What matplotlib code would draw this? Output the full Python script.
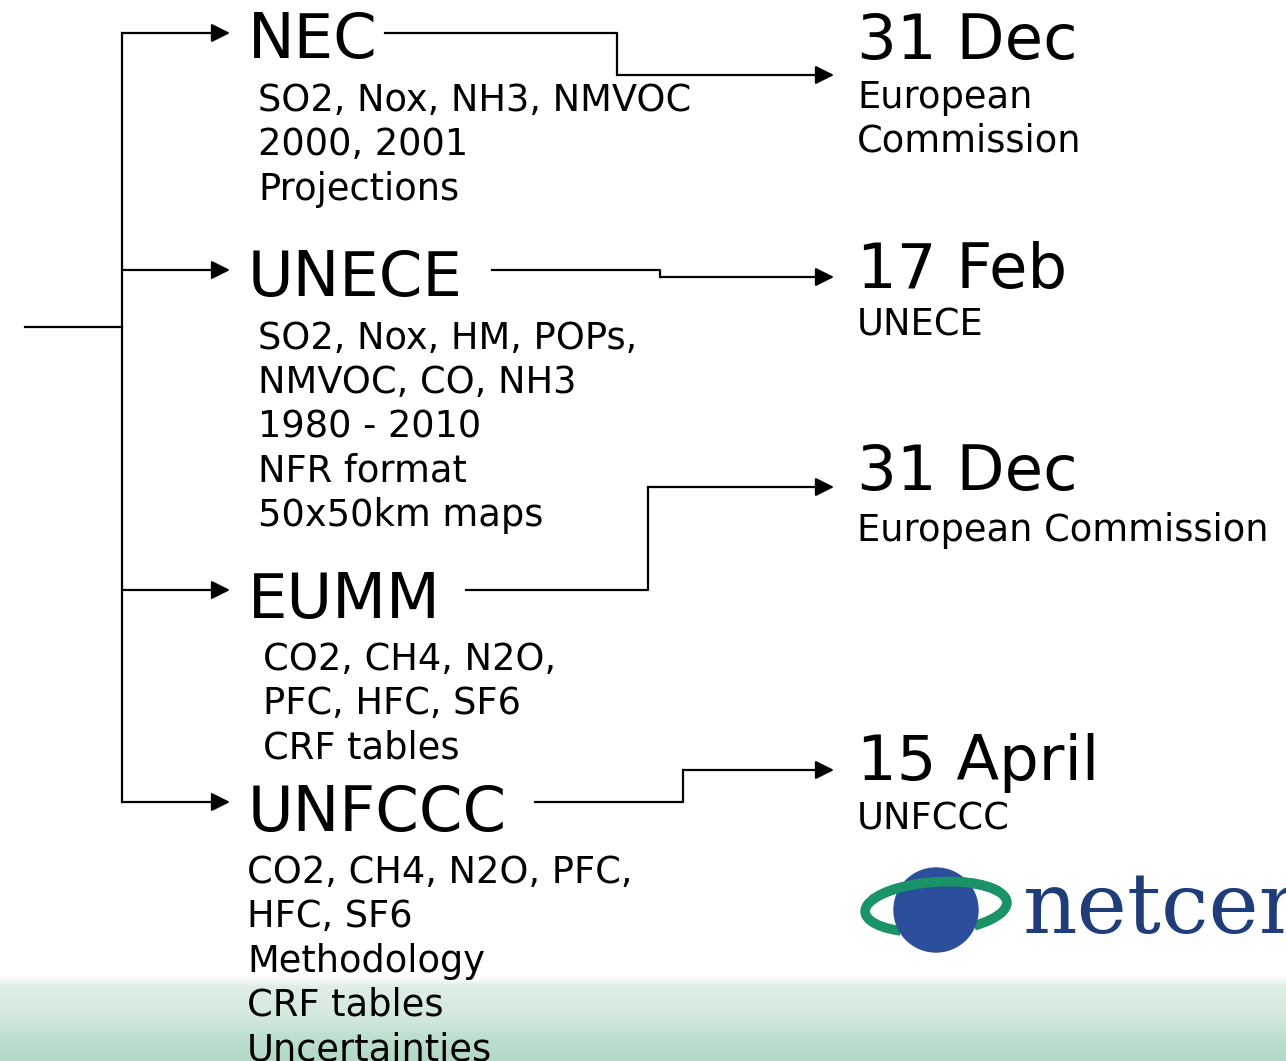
import numpy as np
import matplotlib.pyplot as plt
from matplotlib.colors import LinearSegmentedColormap
from matplotlib.patches import Circle, Arc

# left-hand reports
titles = ['NEC', 'UNECE', 'EUMM', 'UNFCCC']
title_base = [58, 296, 618, 831]
branch_y = [33, 270, 590, 802]
details = [
    ['SO2, Nox, NH3, NMVOC', '2000, 2001', 'Projections'],
    ['SO2, Nox, HM, POPs,', 'NMVOC, CO, NH3', '1980 - 2010', 'NFR format', '50x50km maps'],
    ['CO2, CH4, N2O,', 'PFC, HFC, SF6', 'CRF tables'],
    ['CO2, CH4, N2O, PFC,', 'HFC, SF6', 'Methodology', 'CRF tables', 'Uncertainties'],
]
detail_x = [258, 258, 263, 247]
detail_base = [111, 349, 670, 883]

# right-hand deadlines
dates = ['31 Dec', '17 Feb', '31 Dec', '15 April']
date_base = [59, 288, 490, 780]
receivers = [['European', 'Commission'], ['UNECE'], ['European Commission'], ['UNFCCC']]
recv_base = [108, 335, 541, 829]

# connectors: start x after title, elbow x, target y
conn_start = [385, 492, 466, 535]
conn_elbow = [617, 660, 648, 683]
conn_target = [75, 277, 487, 770]

W, H = 1286, 1061
fig = plt.figure(figsize=(W / 100, H / 100), dpi=100)
ax = fig.add_axes([0, 0, 1, 1])

# bottom green band
band = LinearSegmentedColormap.from_list(
    'band', [(0, '#ffffff'), (0.12, '#dfeee5'), (0.5, '#d3e8dc'), (0.7, '#bfe0d0'), (1, '#b2d8c6')])
ax.imshow(np.linspace(0, 1, 200).reshape(-1, 1), extent=[0, W, H, 976], cmap=band,
          aspect='auto', zorder=0)
ax.set_xlim(0, W)
ax.set_ylim(H, 0)
ax.axis('off')

lw = 1.6
arrow = dict(arrowstyle='-|>', color='black', lw=lw, mutation_scale=28, shrinkA=0, shrinkB=0)

# trunk
ax.plot([25, 122], [327, 327], color='black', lw=lw)
ax.plot([122, 122], [branch_y[0], branch_y[-1]], color='black', lw=lw)
for y in branch_y:
    ax.annotate('', xy=(230, y), xytext=(122, y), arrowprops=arrow)

for i, t in enumerate(titles):
    ax.text(248, title_base[i], t, fontsize=45, va='baseline', ha='left')
    for j, line in enumerate(details[i]):
        ax.text(detail_x[i], detail_base[i] + 44.3 * j, line, fontsize=26.5, va='baseline', ha='left')

    ys, yt = branch_y[i], conn_target[i]
    ax.plot([conn_start[i], conn_elbow[i], conn_elbow[i]], [ys, ys, yt], color='black', lw=lw)
    ax.annotate('', xy=(834, yt), xytext=(conn_elbow[i], yt), arrowprops=arrow)

    ax.text(857, date_base[i], dates[i], fontsize=45, va='baseline', ha='left')
    for j, line in enumerate(receivers[i]):
        ax.text(857, recv_base[i] + 44 * j, line, fontsize=26.5, va='baseline', ha='left')

# netcen logo
ring = '#1a9466'
ax.add_patch(Arc((936, 907), 142, 50, angle=-4, theta1=150, theta2=390, color=ring, lw=7, zorder=3))
ax.add_patch(Circle((936, 910), 42, color='#2c4f9c', zorder=4))
ax.add_patch(Arc((936, 907), 142, 50, angle=-4, theta1=190, theta2=350, color=ring, lw=7, zorder=5))
ax.text(1023, 933, 'netcen', fontsize=61, family='DejaVu Serif', color='#1f3d78',
        va='baseline', ha='left', zorder=5)

fig.savefig('out.png', dpi=100)
